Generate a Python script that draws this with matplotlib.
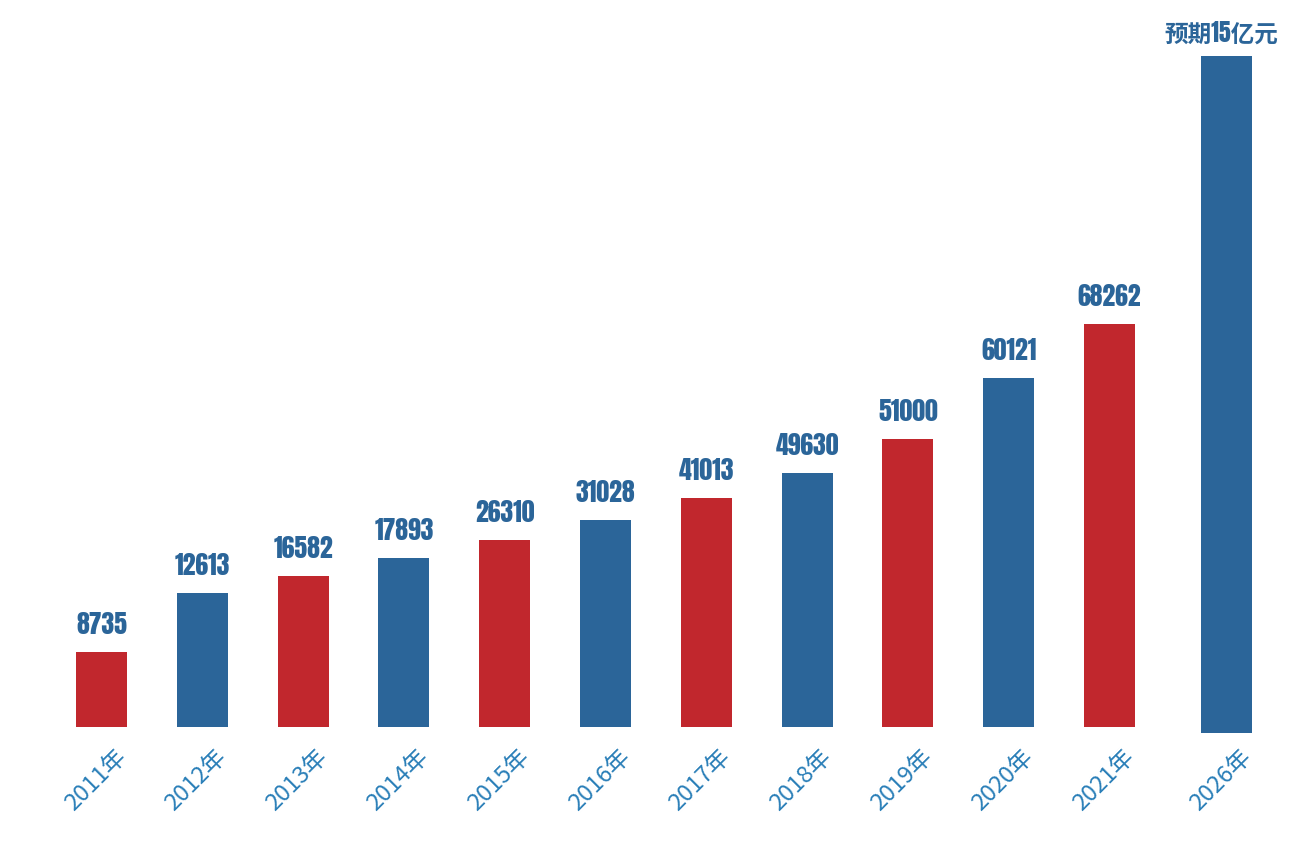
import numpy as np
import matplotlib.pyplot as plt

years = ["2011年", "2012年", "2013年", "2014年", "2015年", "2016年",
         "2017年", "2018年", "2019年", "2020年", "2021年", "2026年"]
labels = ["8735", "12613", "16582", "17893", "26310", "31028",
          "41013", "49630", "51000", "60121", "68262", "预期15亿元"]
# bar heights as drawn (the picture is not to scale, so read off the bars)
bar_heights = [75, 134, 151, 169, 187, 207, 229, 254, 288, 349, 403, 677]
bar_bottoms = [0] * 11 + [-6]

RED = "#c1272d"
BLUE = "#2b6599"
TICK = "#2a7fb8"

x = np.arange(len(years), dtype=float)
x[-1] = 11.16  # the forecast bar sits a bit further out
colors = [RED if i % 2 == 0 else BLUE for i in range(len(years))]

fig = plt.figure(figsize=(13.12, 8.49), dpi=100)
ax = fig.add_axes([0, 0, 1, 1])
ax.set_xlim(-1.007, 12.009)
ax.set_ylim(-122, 727)
ax.axis("off")

ax.bar(x, bar_heights, width=0.506, bottom=bar_bottoms, color=colors)

for xi, h, b, lab in zip(x, bar_heights, bar_bottoms, labels):
    is_num = lab.isdigit()
    ax.annotate(lab, (xi, h + b), xytext=(0 if is_num else -4, 13 if is_num else 10),
                textcoords="offset points", ha="center", va="baseline",
                color=BLUE, fontweight="bold",
                fontsize=18.5 if is_num else 17,
                family=["Anton", "Noto Sans CJK SC", "DejaVu Sans"])

for xi, yr in zip(x, years):
    ax.annotate(yr, (xi, 0), xytext=(15, -19), textcoords="offset points",
                ha="right", va="center", rotation=45, rotation_mode="anchor",
                color=TICK, fontsize=17,
                family=["Noto Sans CJK SC", "DejaVu Sans"])

fig.savefig("out.png", dpi=100, facecolor="white")
